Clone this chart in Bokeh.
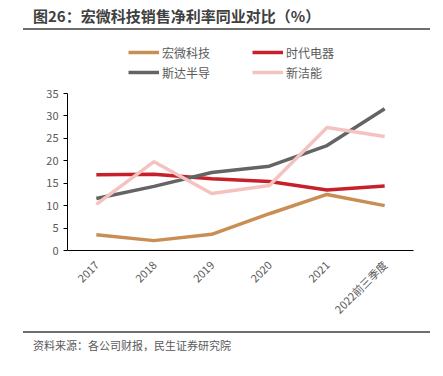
from bokeh.plotting import figure
from bokeh.models import Legend, LegendItem, FactorRange, Div
from bokeh.layouts import column
from bokeh.embed import file_html
from bokeh.resources import INLINE
import math

years = ["2017", "2018", "2019", "2020", "2021", "2022前三季度"]
hongwei = [3.5, 2.2, 3.6, 8.2, 12.5, 10.0]
shidai = [16.9, 17.0, 16.0, 15.4, 13.5, 14.4]
sida = [11.6, 14.3, 17.4, 18.8, 23.4, 31.6]
xinjie = [10.3, 19.8, 12.7, 14.5, 27.4, 25.4]
series_names = ["宏微科技", "时代电器", "斯达半导", "新洁能"]
y_ticks = [0, 5, 10, 15, 20, 25, 30, 35]
title_text = "图26：宏微科技销售净利率同业对比（%）"
source_text = "资料来源：各公司财报，民生证券研究院"

FONT = "Noto Sans CJK SC"
colors = ["#C98E55", "#C8202A", "#646464", "#F4C3C0"]

TOP_H = 33        # title block height
FIG_H = 298       # figure height
BOT_H = 376 - TOP_H - FIG_H
FRAME_BOTTOM = 250 - TOP_H   # y=0 position inside figure
Y_MAX = 35
Y_TOP_PX = 93 - TOP_H        # y=35 position inside figure
y_end = Y_MAX * FRAME_BOTTOM / (FRAME_BOTTOM - Y_TOP_PX)

title_div = Div(
    text=(f'<div style="margin-left:23px;width:407px;height:28px;border-bottom:2px solid #6E6E6E;'
          f'box-sizing:content-box;">'
          f'<div style="padding-left:10px;padding-top:7px;font-family:\'{FONT}\';font-size:15px;'
          f'font-weight:bold;color:#404040;line-height:18px;white-space:nowrap;">{title_text}</div></div>'),
    width=443, height=TOP_H, margin=0)

p = figure(width=443, height=FIG_H, x_range=FactorRange(*years), y_range=(0, y_end),
           output_backend="svg", toolbar_location=None,
           min_border_left=67, min_border_right=30, min_border_top=0,
           min_border_bottom=FIG_H - FRAME_BOTTOM, margin=0)
p.outline_line_color = None
p.grid.grid_line_color = None
p.background_fill_color = "white"
p.border_fill_color = "white"

p.yaxis.ticker = y_ticks
p.yaxis.bounds = (0, Y_MAX)
p.yaxis.major_label_text_font = FONT
p.yaxis.major_label_text_font_size = "11px"
p.yaxis.major_label_text_color = "#595959"
p.yaxis.axis_line_color = "black"
p.yaxis.major_tick_line_color = "black"
p.yaxis.major_tick_out = 4
p.yaxis.major_tick_in = 0
p.yaxis.minor_tick_line_color = None

p.xaxis.major_label_orientation = math.pi / 4
p.xaxis.major_label_text_font = FONT
p.xaxis.major_label_text_font_size = "11px"
p.xaxis.major_label_text_color = "#595959"
p.xaxis.axis_line_color = "black"
p.xaxis.major_tick_line_color = None
p.xaxis.major_label_standoff = 6

renderers = []
for vals, c in zip([hongwei, shidai, sida, xinjie], colors):
    renderers.append(p.line(years, vals, line_color=c, line_width=3.5))

items = [LegendItem(label=n, renderers=[r]) for n, r in zip(series_names, renderers)]
# legend fills column by column: reorder so rows read 宏微科技/时代电器, 斯达半导/新洁能
items = [items[0], items[2], items[1], items[3]]
legend = Legend(items=items, ncols=2, location=(61, 168),
                glyph_width=31, glyph_height=20, label_standoff=3, label_width=90,
                label_height=20, spacing=0, padding=0, margin=0,
                label_text_font=FONT, label_text_font_size="12px",
                label_text_color="#595959", border_line_color=None,
                background_fill_alpha=0)
p.add_layout(legend, "center")

foot_div = Div(
    text=(f'<div style="margin-left:23px;width:407px;border-top:2px solid #6E6E6E;">'
          f'<div style="padding-left:10px;padding-top:4px;font-family:\'{FONT}\';font-size:11px;'
          f'color:#595959;line-height:16px;white-space:nowrap;">{source_text}</div></div>'),
    width=443, height=BOT_H, margin=0)

layout = column(title_div, p, foot_div, spacing=0, margin=0)
open("out.html", "w").write(file_html(layout, INLINE))
